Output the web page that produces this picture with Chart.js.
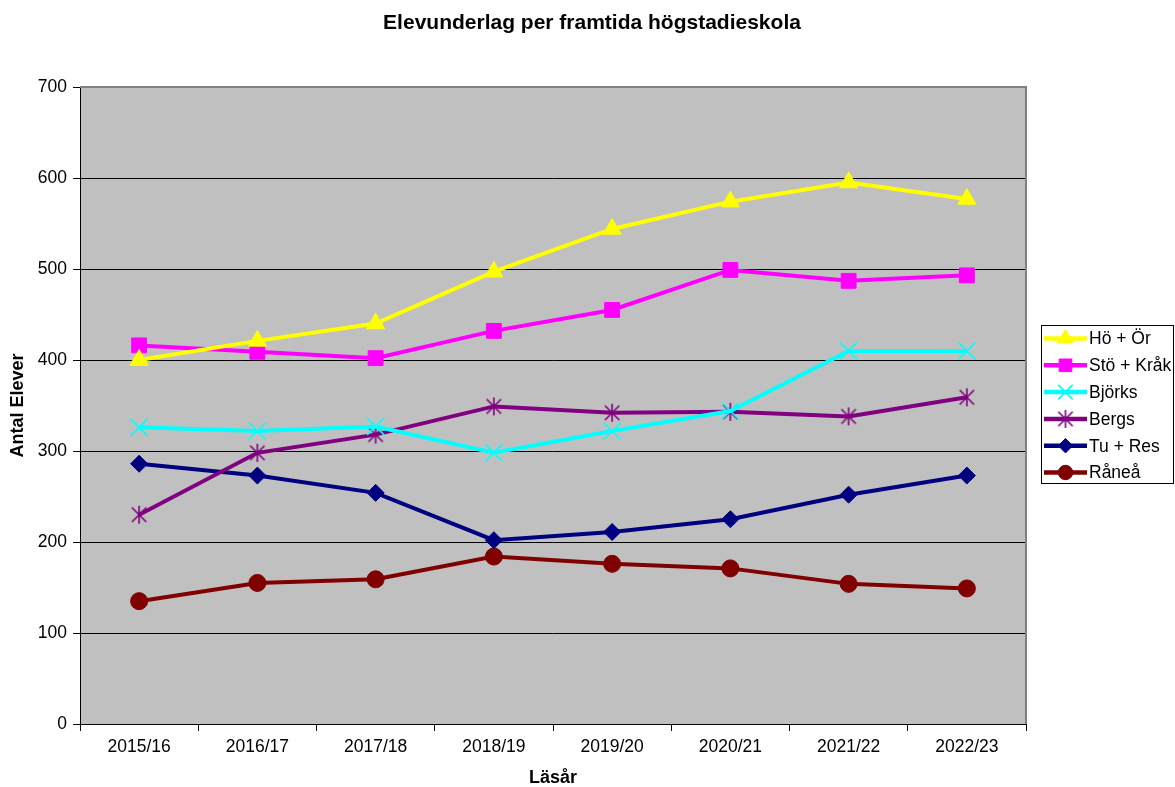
<!DOCTYPE html>
<html>
<head>
<meta charset="utf-8">
<script src="https://cdn.jsdelivr.net/npm/chart.js@4/dist/chart.umd.min.js"></script>
<style>
  html, body { margin: 0; padding: 0; background: #fff; }
  #wrap { width: 1175px; height: 787px; }
</style>
</head>
<body>
<div id="wrap"><canvas id="chart" width="1175" height="787"></canvas></div>
<script>
const chartTitle = 'Elevunderlag per framtida högstadieskola';
const years = ['2015/16', '2016/17', '2017/18', '2018/19', '2019/20', '2020/21', '2021/22', '2022/23'];

const hoOr     = [400, 421, 440, 497, 544, 574, 595, 577];
const stoKrak  = [416, 409, 402, 432, 455, 499, 487, 493];
const bjorks   = [326, 322, 327, 298, 322, 344, 410, 410];
const bergs    = [230, 298, 318, 349, 342, 343, 338, 359];
const tuRes    = [286, 273, 254, 202, 211, 225, 252, 273];
const ranea    = [135, 155, 159, 184, 176, 171, 154, 149];

const FONT = '"Liberation Sans", Arial, sans-serif';

// asterisk marker (vertical line + X) like the old Excel star
function starMarker(color, size) {
    const c = document.createElement('canvas');
    c.width = size; c.height = size;
    const g = c.getContext('2d');
    const m = size / 2, r = size / 2 - 1, d = r * 0.8;
    g.strokeStyle = color;
    g.lineWidth = 1.6;
    g.beginPath();
    g.moveTo(m, m - r); g.lineTo(m, m + r);
    g.moveTo(m - d, m - d); g.lineTo(m + d, m + d);
    g.moveTo(m + d, m - d); g.lineTo(m - d, m + d);
    g.stroke();
    return c;
}

function series(label, data, color, style, radius, bw) {
    return {
        label, data,
        borderColor: color,
        backgroundColor: color,
        pointBackgroundColor: color,
        pointBorderColor: color,
        borderWidth: 4,
        pointStyle: style,
        pointRadius: radius,
        pointHoverRadius: radius,
        pointBorderWidth: bw,
        tension: 0
    };
}

const datasets = [
    series('Hö + Ör', hoOr, '#FFFF00', 'triangle', 10.5, 1),
    series('Stö + Kråk', stoKrak, '#FF00FF', 'rect', 10.5, 1),
    series('Björks', bjorks, '#00FFFF', 'crossRot', 12, 1.6),
    series('Bergs', bergs, '#800080', starMarker('#800080', 20), 10, 1),
    series('Tu + Res', tuRes, '#000080', 'rectRot', 8.5, 1),
    series('Råneå', ranea, '#800000', 'circle', 8.5, 1)
];

const plotBackground = {
    id: 'plotBackground',
    beforeDraw(chart) {
        const { ctx, chartArea: a } = chart;
        ctx.save();
        ctx.fillStyle = '#C0C0C0';
        ctx.fillRect(a.left, a.top, a.right - a.left, a.bottom - a.top);
        ctx.restore();
    },
    afterDatasetsDraw(chart) {
        const { ctx, chartArea: a } = chart;
        ctx.save();
        ctx.strokeStyle = '#808080';
        ctx.lineWidth = 2;
        ctx.beginPath();
        ctx.moveTo(a.left, a.top);
        ctx.lineTo(a.right, a.top);
        ctx.lineTo(a.right, a.bottom);
        ctx.stroke();
        ctx.restore();
    }
};

// title centred on the whole canvas + legend box on the right
const sideLegend = {
    id: 'sideLegend',
    afterDraw(chart) {
        const ctx = chart.ctx;
        ctx.save();
        ctx.fillStyle = '#000';
        ctx.font = 'bold 21px ' + FONT;
        ctx.textAlign = 'center';
        ctx.textBaseline = 'middle';
        ctx.fillText(chartTitle, 592, 23);

        const x0 = 1041, y0 = 325, w = 132, h = 158;
        ctx.textAlign = 'left';
        ctx.fillStyle = '#fff';
        ctx.fillRect(x0, y0, w, h);
        ctx.strokeStyle = '#000';
        ctx.lineWidth = 1;
        ctx.strokeRect(x0 + 0.5, y0 + 0.5, w, h);
        ctx.font = '17.5px ' + FONT;
        chart.data.datasets.forEach((ds, i) => {
            const y = 338.5 + i * 26.8;
            ctx.strokeStyle = ds.borderColor;
            ctx.lineWidth = 4.5;
            ctx.beginPath();
            ctx.moveTo(1044, y);
            ctx.lineTo(1087, y);
            ctx.stroke();
            ctx.fillStyle = ds.pointBackgroundColor;
            ctx.strokeStyle = ds.pointBorderColor;
            ctx.lineWidth = ds.pointBorderWidth;
            Chart.helpers.drawPoint(ctx, {
                pointStyle: ds.pointStyle,
                radius: ds.pointRadius * 0.85,
                rotation: 0,
                borderWidth: ds.pointBorderWidth
            }, 1065.5, y);
            ctx.fillStyle = '#000';
            ctx.fillText(ds.label, 1089, y + 1);
        });
        ctx.restore();
    }
};

new Chart(document.getElementById('chart'), {
    type: 'line',
    data: { labels: years, datasets },
    plugins: [plotBackground, sideLegend],
    options: {
        responsive: false,
        animation: false,
        events: [],
        layout: { padding: { top: 87, right: 149, bottom: 0, left: 0 } },
        plugins: {
            legend: { display: false },
            tooltip: { enabled: false },
            title: { display: false }
        },
        scales: {
            x: {
                offset: true,
                afterFit: s => { s.height = 63; },
                grid: {
                    offset: true,
                    drawOnChartArea: false,
                    drawTicks: true,
                    tickLength: 7,
                    color: '#000'
                },
                border: { color: '#000', width: 1 },
                ticks: {
                    color: '#000',
                    padding: 6,
                    maxRotation: 0,
                    font: { family: FONT, size: 17.5 }
                },
                title: {
                    display: true,
                    text: 'Läsår',
                    color: '#000',
                    font: { family: FONT, size: 18, weight: 'bold', lineHeight: 1 },
                    padding: { top: 0, bottom: 0 }
                }
            },
            y: {
                min: 0,
                max: 700,
                afterFit: s => { s.width = 80; },
                grid: {
                    color: '#000',
                    lineWidth: 1,
                    drawTicks: true,
                    tickLength: 7
                },
                border: { color: '#000', width: 1 },
                ticks: {
                    stepSize: 100,
                    color: '#000',
                    padding: 6,
                    font: { family: FONT, size: 17.5 }
                },
                title: {
                    display: true,
                    text: 'Antal Elever',
                    color: '#000',
                    font: { family: FONT, size: 18, weight: 'bold', lineHeight: 1 },
                    padding: { top: 9, bottom: 0 }
                }
            }
        }
    }
});
</script>
</body>
</html>
